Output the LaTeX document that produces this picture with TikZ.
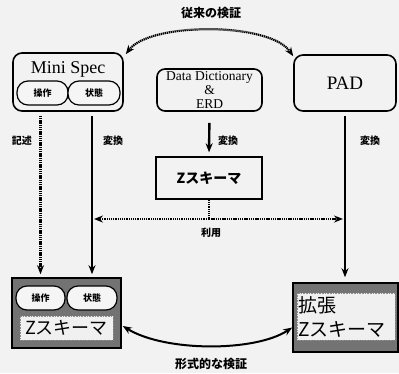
\documentclass[tikz,border=0pt]{standalone}
\usepackage{fontspec}
\setmainfont{Liberation Serif}
\newfontfamily\jp{Noto Sans CJK JP}
\usetikzlibrary{arrows.meta}
\begin{document}
\begin{tikzpicture}[x=1pt,y=-1pt,
 box/.style={draw, line width=1.6pt, rounded corners=9pt},
 oval/.style={draw, line width=1.2pt, rounded corners=11pt, fill=white!96!black, minimum height=24pt, inner sep=0pt, font=\jp\bfseries\fontsize{9}{9}\selectfont},
 lab/.style={font=\jp\bfseries\fontsize{10}{10}\selectfont},
 biglab/.style={font=\jp\bfseries\fontsize{12}{12}\selectfont},
 tip/.style={-{Stealth[length=9pt,width=7pt]}},
 arr/.style={line width=1.8pt, tip},
 darr/.style={line width=2.2pt, dash pattern=on 1.3pt off 0.9pt, tip},
 dline/.style={line width=2.2pt, dash pattern=on 1.3pt off 0.9pt},
 frame/.style={draw, line width=1.6pt, fill=black!55},
 inner/.style={draw=black!45, densely dotted, line width=0.6pt, fill=white!94!black, inner sep=0pt},
]
\fill[white!95!black] (0,0) rectangle (399,373);
\useasboundingbox (0,0) rectangle (399,373);

% Mini Spec
\node[box, minimum width=110pt, minimum height=58pt] (ms) at (68,82) {};
\node[font=\fontsize{18}{18}\selectfont] (mst) at (68,69) {Mini Spec};
\node[oval, minimum width=51pt] (op1) at (42.5,93) {操作};
\node[oval, minimum width=52pt] (st1) at (94,93) {状態};

% PAD
\node[box, minimum width=102pt, minimum height=56pt, font=\fontsize{19}{19}\selectfont] (pad) at (345,83) {PAD};

% Data Dictionary
\node[box, rounded corners=8pt, minimum width=105pt, minimum height=42pt, align=center, inner sep=0pt,
      font=\fontsize{13.5}{13.6}\selectfont] (dd) at (209.5,90) {Data Dictionary\\\&\\ERD};

% middle Z schema
\node[draw, line width=1.4pt, minimum width=106pt, minimum height=42pt, font=\jp\bfseries\fontsize{14}{14}\selectfont] (zm) at (209,178) {Zスキーマ};

% bottom left
\node[frame, minimum width=109pt, minimum height=70pt] (zl) at (66.5,313) {};
\node[oval, minimum width=49pt] (op2) at (40.5,298) {操作};
\node[oval, minimum width=50pt] (st2) at (92,298) {状態};
\node[inner, minimum width=93pt, minimum height=24pt, font=\jp\fontsize{18}{18}\selectfont] (zlt) at (66.5,328) {Zスキーマ};

% bottom right
\node[frame, minimum width=105pt, minimum height=69pt] (zr) at (345.5,317.5) {};
\node[inner, minimum width=98pt, minimum height=47pt, text width=96pt, align=left,
      font=\jp\fontsize{19}{24}\selectfont] (zrt) at (346,316.5) {拡張\\Zスキーマ};

% vertical arrows
\draw[darr, shorten <=4pt, shorten >=3pt] (ms.south -| op2) -- (zl.north -| op2);
\draw[arr, shorten <=4pt, shorten >=3pt] (ms.south -| st2) -- (zl.north -| st2);
\draw[arr, shorten <=4pt, shorten >=5pt] (pad.south) -- (zr.north -| pad.south);
\draw[arr, line width=2.4pt, shorten <=11pt, shorten >=4pt] (dd.south) -- (zm.north);

\node[lab] (l1) at (22,141) {記述};
\node[lab] (l2) at (113,141) {変換};
\node[lab] (l3) at (228,141) {変換};
\node[lab] (l4) at (370,141) {変換};

% usage
\coordinate (u) at (209,219);
\draw[dline] (zm.south) -- (u);
\draw[darr, shorten >=2pt] (u) -- (u -| st2);
\draw[darr, shorten >=2pt] (u) -- (u -| pad.south);
\node[lab] (l5) at (211,233) {利用};

% top curve
\draw[line width=2.2pt, dash pattern=on 1.3pt off 0.7pt, {Stealth[length=9pt,width=7pt]}-{Stealth[length=9pt,width=7pt]}]
  ([xshift=2pt,yshift=-2pt]ms.north east) .. controls (150,22) and (270,22) .. ([yshift=-2pt]pad.north west);
\node[biglab] (l6) at (211,13) {従来の検証};

% bottom curve
\draw[line width=2pt, {Stealth[length=9pt,width=7pt]}-{Stealth[length=9pt,width=7pt]}]
  ([xshift=1pt,yshift=-13pt]zl.east) .. controls (165,352) and (255,352) .. ([yshift=-10pt]zr.west);
\node[biglab] (l7) at (211,364) {形式的な検証};
\end{tikzpicture}
\end{document}
